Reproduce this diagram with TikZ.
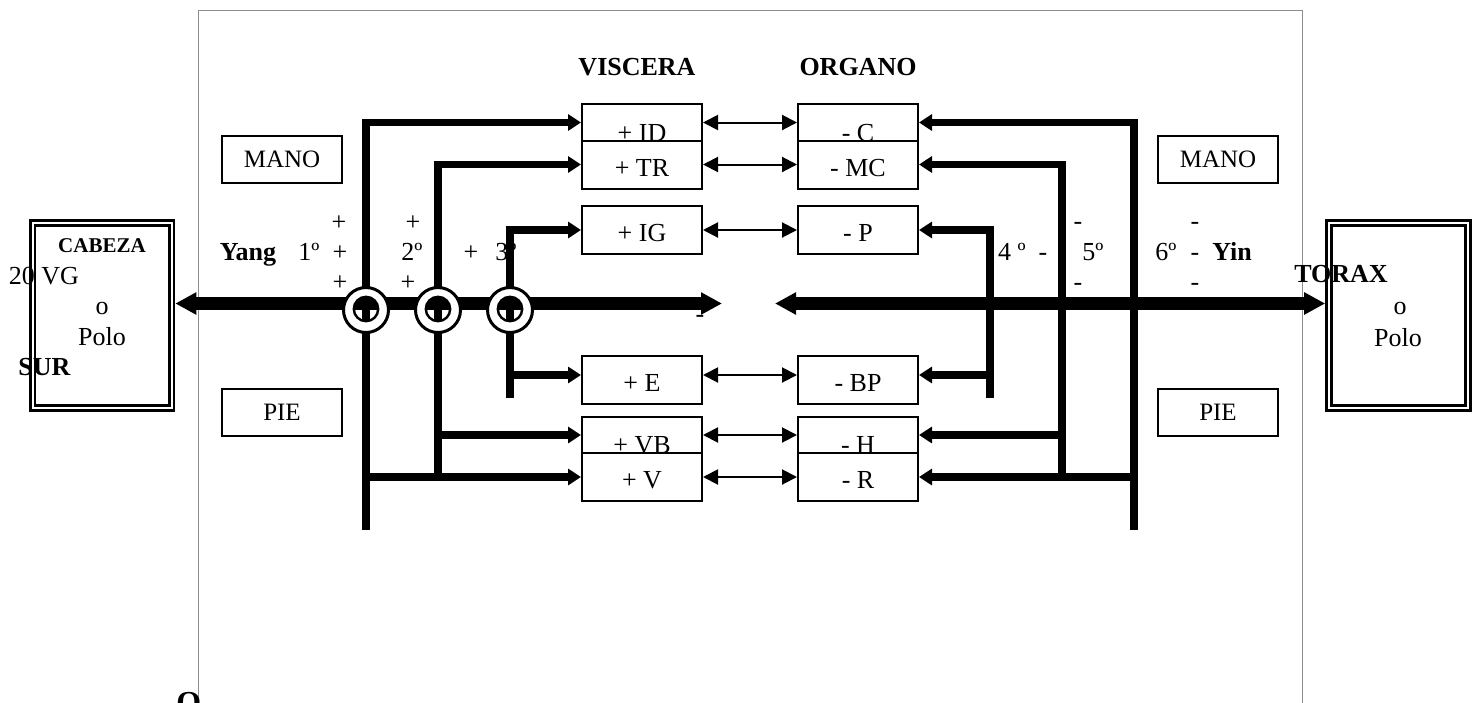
\documentclass[tikz,border=0pt]{standalone}
\usepackage{fontspec}
\setmainfont{Liberation Serif}
\usetikzlibrary{arrows.meta}
\tikzset{
  cell/.style={draw,line width=1pt,fill=white,inner sep=0pt,minimum width=60pt,minimum height=24pt,text height=11.6pt,text depth=0pt,font=\fontsize{13}{15}\selectfont},
  half/.style={minimum height=#1,text height=#1},
  side/.style={draw,line width=1pt,inner sep=0pt,minimum width=60pt,minimum height=23.5pt,font=\fontsize{12.5}{15}\selectfont},
  pole/.style={draw,double,line width=1.4pt,double distance=1pt,inner sep=0pt,outer sep=1.9pt,minimum width=69.5pt,minimum height=92.6pt},
  txt/.style={inner sep=0pt,font=\fontsize{13}{15}\selectfont},
  btxt/.style={inner sep=0pt,font=\fontsize{13}{15}\selectfont\bfseries},
  branch/.style={line width=3.75pt,-{Triangle[length=6.5pt,width=8pt]}},
  axis/.style={line width=6.5pt,{Triangle[length=10.5pt,width=10.5pt]}-{Triangle[length=10.5pt,width=10.5pt]}},
  link/.style={line width=1pt,{Triangle[length=7.5pt,width=7.5pt]}-{Triangle[length=7.5pt,width=7.5pt]}},
  ring/.style={circle,draw,fill=white,line width=1.5pt,inner sep=0pt,minimum size=22.5pt}
}
\begin{document}
\begin{tikzpicture}[x=.5pt,y=-.5pt]
\useasboundingbox (0,0) rectangle (1477,702);
\draw[black!45,line width=.5pt] (198,712) -- (198,10) -- (1302,10) -- (1302,712);
% headings, ranks and signs
\node[btxt] (visc) at (637,67) {VISCERA};
\node[btxt] (orga) at (858,67) {ORGANO};
\node[btxt,anchor=base] (yang) at (248,260) {Yang};
\node[btxt,anchor=base] (yin) at (1232,260) {Yin};
\foreach \n/\x/\t in {g1/309/1º,p1/340/+,g2/412/2º,p3/471/+,g3/506/3º,g4/1012/4 º,m4/1043/-,g5/1093/5º,g6/1166/6º,m6/1195/-}
  \node[txt,anchor=base] (\n) at (\x,260) {\t};
\foreach \n/\x/\y/\t in {pa/339/230/+,pb/340/290/+,pc/413/230/+,pd/408/290/+,ma/1078/229/-,mb/1078/290/-,mc/1195/229/-,md/1195/290/-}
  \node[txt,anchor=base] (\n) at (\x,\y) {\t};
% poles
\node[pole] (cab) at (102,315.5) {};
\node[pole] (tor) at (1398.5,315.5) {};
\node[btxt,font=\fontsize{10.5}{12}\selectfont\bfseries] (cabt) at (102,246) {CABEZA};
\node[txt] (vg) at (44,276) {20 VG};
\node[txt] (co) at (102,308) {o};
\node[txt] (cpolo) at (102,337) {Polo};
\node[btxt] (sur) at (44.5,367) {SUR};
\node[btxt] (torx) at (1341,274) {TORAX};
\node[txt] (to) at (1400,308) {o};
\node[txt] (tpolo) at (1398,338) {Polo};
% hand and foot
\node[side] (manl) at (282,159.5) {MANO};
\node[side] (manr) at (1218,159.5) {MANO};
\node[side] (piel) at (282,412) {PIE};
\node[side] (pier) at (1218,412) {PIE};
% viscera and organos
\foreach \y/\h/\a/\b in {122.5/18.5pt/ID/C,435/18pt/VB/H}{
  \node[cell,half=\h] (v\a) at (642,\y) {+ \a};
  \node[cell,half=\h] (o\b) at (858,\y) {- \b};
}
\foreach \y/\a/\b in {164.5/TR/MC,230/IG/P,380/E/BP,477/V/R}{
  \node[cell] (v\a) at (642,\y) {+ \a};
  \node[cell] (o\b) at (858,\y) {- \b};
}
\foreach \a/\b in {ID/C,TR/MC,IG/P,VB/H,V/R}
  \draw[link] (v\a) -- (o\b);
\coordinate (eL) at ([yshift=2.5pt]vE.west);
\coordinate (eR) at ([yshift=2.5pt]oBP.east);
\draw[link] ([yshift=2.5pt]vE.east) -- ([yshift=2.5pt]oBP.west);
% channels
\coordinate (sl1) at (366,530); \coordinate (sl2) at (438,477); \coordinate (sl3) at (510,398);
\coordinate (sr1) at (1134,530); \coordinate (sr2) at (1062,477); \coordinate (sr3) at (990,398);
\draw[branch] (sl1) |- (vID.west);
\draw[branch] (sl2) |- (vTR.west);
\draw[branch] (sl3) |- (vIG.west);
\draw[branch] (eL-|sl3) -- (eL);
\draw[branch] (vVB.west-|sl2) -- (vVB.west);
\draw[branch] (vV.west-|sl1) -- (vV.west);
\draw[branch] (sr1) |- (oC.east);
\draw[branch] (sr2) |- (oMC.east);
\draw[branch] (sr3) |- (oP.east);
\draw[branch] (eR-|sr3) -- (eR);
\draw[branch] (oH.east-|sr2) -- (oH.east);
\draw[branch] (oR.east-|sr1) -- (oR.east);
% axis
\coordinate (axL) at (722,303.5); \coordinate (axR) at (775,303.5);
\draw[axis] (cab.east|-axL) -- (axL);
\draw[axis] (axR) -- (tor.west|-axR);
\node[txt,anchor=base] (me) at (700,322) {-};
\foreach \k/\x in {k1/366,k2/438,k3/510}{
  \node[ring] (\k) at (\x,310) {};
  \begin{scope}
    \clip (\x,309) circle[radius=6.1pt];
    \fill (\x-15,297) rectangle (\x+15,310);
    \fill (\x-4,300) rectangle (\x+4,330);
  \end{scope}
  \draw[line width=1.2pt] (\x,309) circle[radius=6.1pt];
}
\node[btxt,font=\fontsize{16}{18}\selectfont\bfseries,anchor=north west] (big) at (176,692) {O};
\end{tikzpicture}
\end{document}
